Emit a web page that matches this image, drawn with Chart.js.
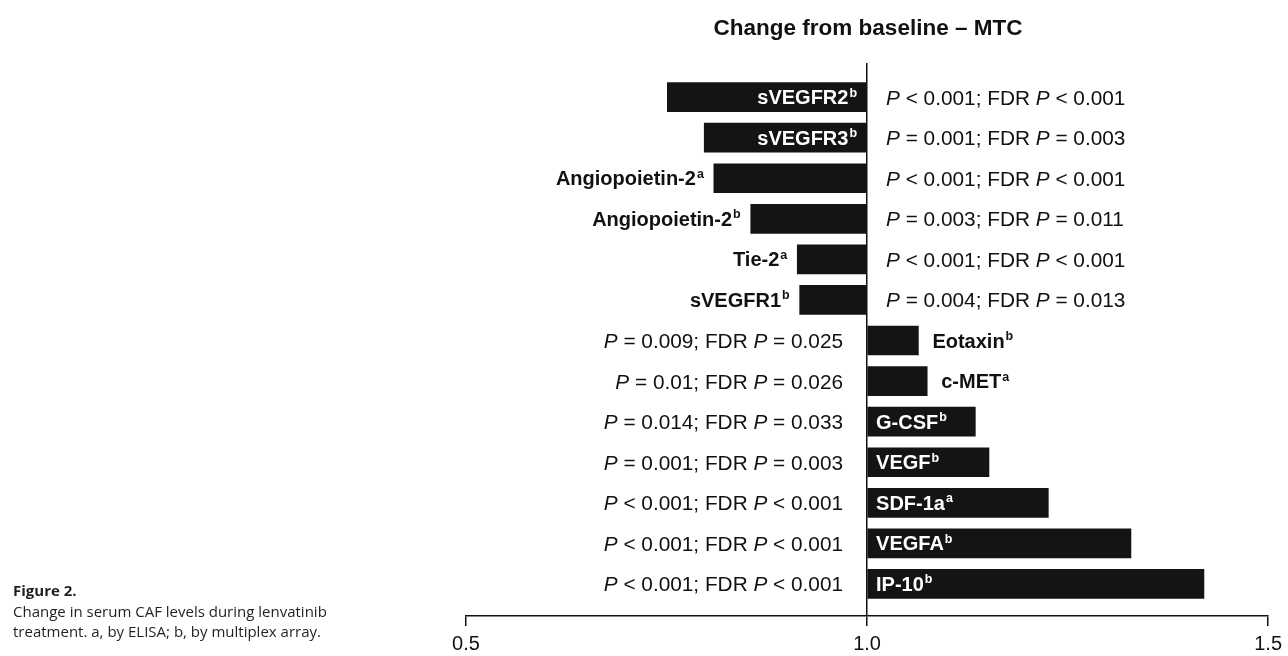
<!DOCTYPE html>
<html>
<head>
<meta charset="utf-8">
<script src="https://cdn.jsdelivr.net/npm/chart.js@4"></script>
<style>
  body { margin: 0; background: #fff; }
  #wrap { position: relative; width: 1288px; height: 656px; }
  .caption { position: absolute; left: 13px; top: 580px; font-family: "Open Sans", sans-serif; font-size: 15px; line-height: 20.5px; color: #231f20; }
  .caption b { font-weight: 700; }
</style>
</head>
<body>
<div id="wrap">
  <canvas id="cafChart"></canvas>
  <div class="caption"><b>Figure 2.</b><br>Change in serum CAF levels during lenvatinib<br>treatment. a, by ELISA; b, by multiplex array.</div>
</div>
<script>
const markers = ["sVEGFR2", "sVEGFR3", "Angiopoietin-2", "Angiopoietin-2", "Tie-2", "sVEGFR1",
  "Eotaxin", "c-MET", "G-CSF", "VEGF", "SDF-1a", "VEGFA", "IP-10"];
const assay = ["b", "b", "a", "b", "a", "b", "b", "a", "b", "b", "a", "b", "b"];
const ratio = [0.751, 0.797, 0.809, 0.855, 0.913, 0.916, 1.064, 1.075, 1.135, 1.152, 1.226, 1.329, 1.420];
const pValue = ["< 0.001", "= 0.001", "< 0.001", "= 0.003", "< 0.001", "= 0.004",
  "= 0.009", "= 0.01", "= 0.014", "= 0.001", "< 0.001", "< 0.001", "< 0.001"];
const fdrValue = ["< 0.001", "= 0.003", "< 0.001", "= 0.011", "< 0.001", "= 0.013",
  "= 0.025", "= 0.026", "= 0.033", "= 0.003", "< 0.001", "< 0.001", "< 0.001"];
const xTicks = [0.5, 1.0, 1.5];

const FAMILY = '"Liberation Sans", Arial, sans-serif';
const nameFont = "bold 20px " + FAMILY;
const supFont = "bold 12.5px " + FAMILY;
const pFont = "20.8px " + FAMILY;
const pItalic = "italic 20.8px " + FAMILY;

function nameWidth(ctx, i) {
  ctx.font = nameFont;
  const w = ctx.measureText(markers[i]).width;
  ctx.font = supFont;
  return w + 1 + ctx.measureText(assay[i]).width;
}

function drawName(ctx, i, x, y, align, color) {
  const total = nameWidth(ctx, i);
  const left = align === "right" ? x - total : x;
  ctx.fillStyle = color;
  ctx.textAlign = "left";
  ctx.textBaseline = "alphabetic";
  ctx.font = nameFont;
  ctx.fillText(markers[i], left, y + 7);
  const w = ctx.measureText(markers[i]).width;
  ctx.font = supFont;
  ctx.fillText(assay[i], left + w + 1, y - 0.5);
}

function drawP(ctx, i, x, y, align) {
  const parts = [
    ["P", pItalic],
    [" " + pValue[i] + "; FDR ", pFont],
    ["P", pItalic],
    [" " + fdrValue[i], pFont]
  ];
  let total = 0;
  parts.forEach(p => { ctx.font = p[1]; total += ctx.measureText(p[0]).width; });
  let left = align === "right" ? x - total : x;
  ctx.fillStyle = "#111";
  ctx.textAlign = "left";
  ctx.textBaseline = "alphabetic";
  parts.forEach(p => {
    ctx.font = p[1];
    ctx.fillText(p[0], left, y + 7.5);
    left += ctx.measureText(p[0]).width;
  });
}

const barLabels = {
  id: "barLabels",
  afterDatasetsDraw(chart) {
    const ctx = chart.ctx;
    const xScale = chart.scales.x;
    const base = xScale.getPixelForValue(1);
    ctx.save();
    chart.getDatasetMeta(0).data.forEach((bar, i) => {
      const y = bar.y;
      const end = xScale.getPixelForValue(ratio[i]);
      const inside = nameWidth(ctx, i) + 20 < Math.abs(end - base);
      if (ratio[i] < 1) {
        if (inside) drawName(ctx, i, base - 10, y, "right", "#fff");
        else drawName(ctx, i, end - 10, y, "right", "#111");
        drawP(ctx, i, base + 19, y, "left");
      } else {
        if (inside) drawName(ctx, i, base + 9, y, "left", "#fff");
        else drawName(ctx, i, end + 14, y, "left", "#111");
        drawP(ctx, i, base - 24, y, "right");
      }
    });
    ctx.restore();
  }
};

new Chart(document.getElementById("cafChart"), {
  type: "bar",
  data: {
    datasets: [{
      data: ratio.map((v, i) => ({ x: v, y: i })),
      base: 1,
      backgroundColor: "#141414",
      borderWidth: 0,
      barThickness: 29
    }]
  },
  options: {
    indexAxis: "y",
    responsive: true,
    maintainAspectRatio: false,
    animation: false,
    layout: { padding: { left: 466, right: 18, top: 0, bottom: -6 } },
    plugins: {
      legend: { display: false },
      tooltip: { enabled: false },
      title: {
        display: true,
        text: "Change from baseline \u2013 MTC",
        color: "#111",
        font: { family: FAMILY, size: 22.5, weight: "bold" },
        padding: { top: 15, bottom: 21 }
      }
    },
    scales: {
      x: {
        type: "linear",
        min: xTicks[0],
        max: xTicks[xTicks.length - 1],
        afterBuildTicks: scale => { scale.ticks = xTicks.map(v => ({ value: v })); },
        ticks: {
          color: "#111",
          padding: 6,
          font: { family: FAMILY, size: 20 },
          callback: v => v.toFixed(1)
        },
        grid: {
          color: c => (c.tick && c.tick.value === 1 ? "#111" : "rgba(0,0,0,0)"),
          lineWidth: 1.5,
          tickColor: "#111",
          tickWidth: 1.5,
          tickLength: 10
        },
        border: { display: true, color: "#111", width: 1.5 }
      },
      y: {
        type: "linear",
        reverse: true,
        offset: false,
        min: -0.84,
        max: 12.79,
        display: false
      }
    }
  },
  plugins: [barLabels]
});
</script>
</body>
</html>
